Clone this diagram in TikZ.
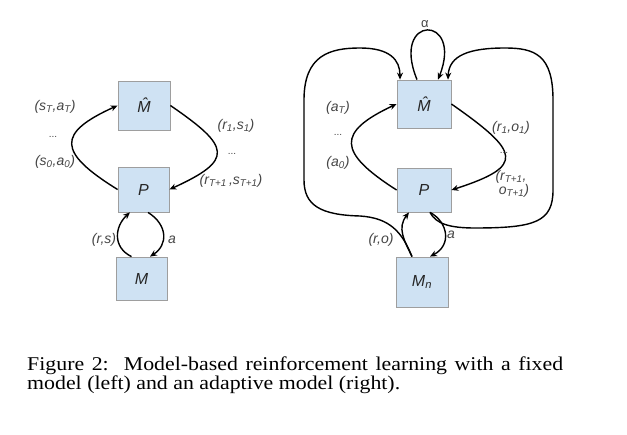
\documentclass[tikz,border=0pt]{standalone}
\usepackage{fontspec}
\setmainfont{Liberation Serif}[FakeStretch=1.12]
\newfontfamily\diagfont{Liberation Sans}
\usetikzlibrary{arrows.meta}
\definecolor{boxfill}{HTML}{CFE2F3}
\definecolor{boxedge}{HTML}{9E9E9E}
\definecolor{lbl}{HTML}{454545}
\newcommand{\lsb}[1]{\textsubscript{#1}}
\begin{document}
\begin{tikzpicture}[x=1pt,y=-1pt,
  box/.style={draw=boxedge, fill=boxfill, line width=0.8pt, inner sep=0pt, text=black!85,
    font=\diagfont\itshape\fontsize{16}{17}\selectfont},
  lab/.style={text=lbl, inner sep=0pt, font=\diagfont\itshape\fontsize{14}{15}\selectfont},
  dots/.style={text=lbl, inner sep=0pt, font=\diagfont\fontsize{10}{12}\selectfont},
  conn/.style={line width=1.4pt, -{Stealth[length=7pt,width=6pt]}}]
\useasboundingbox[fill=white] (0,0) rectangle (627,435);
% ---------- left panel ----------
\node[box, minimum width=52pt, minimum height=49pt] (Mh1) at (144,105.5) {\^{M}};
\node[box, minimum width=51pt, minimum height=45pt] (P1) at (143.5,189.5) {P};
\node[box, minimum width=51pt, minimum height=43pt] (M1) at (141.5,278.5) {M};
\draw[conn] (P1.west) .. controls (57,152) and (57,133) .. (Mh1.west);
\draw[conn] (Mh1.east) .. controls (231,147) and (234,160) .. (P1.east);
\draw[conn] ([xshift=-10pt]M1.north) .. controls (112,247) and (115,226) .. ([xshift=-13.5pt]P1.south);
\draw[conn] ([xshift=4.5pt]P1.south) .. controls (168,225) and (168,245) .. ([xshift=8.5pt]M1.north);
\node[lab] (l1) at (55,107) {(s\lsb{T},a\lsb{T})};
\node[dots] (l2) at (53,137) {...};
\node[lab] (l3) at (55,162) {(s\lsb{0},a\lsb{0})};
\node[lab] (l4) at (236,126) {(r\lsb{1},s\lsb{1})};
\node[dots] (l5) at (232,154) {...};
\node[lab] (l6) at (231,181) {(r\lsb{T+1}\,,s\lsb{T+1})};
\node[lab] (l7) at (104,240) {(r,s)};
\node[lab] (l8) at (172,240) {a};
% ---------- right panel ----------
\node[box, minimum width=54pt, minimum height=48pt] (Mh2) at (424,104) {\^{M}};
\node[box, minimum width=54pt, minimum height=44pt] (P2) at (424,190) {P};
\node[box, minimum width=52pt, minimum height=50pt] (Mn) at (422,282) {M\lsb{n}};
\draw[conn] (P2.west) .. controls (337,152) and (337,132) .. (Mh2.west);
\draw[conn] (Mh2.east) .. controls (520,152) and (526,166) .. (P2.east);
\draw[conn] ([xshift=-7pt]Mh2.north) .. controls (390,14) and (464,14) .. ([xshift=14pt]Mh2.north);
\draw[conn] ([xshift=-10pt]Mn.north) .. controls (404,240) and (397,228) .. ([xshift=-15pt]P2.south);
\draw[conn] ([xshift=6pt]P2.south) .. controls (448,222) and (452,245) .. ([xshift=8pt]Mn.north);
\draw[conn] ([xshift=-10pt]Mn.north) .. controls (402,232) and (390,218) .. (360,216)
  .. controls (320,215) and (304,205) .. (304,180)
  -- (304,100)
  .. controls (304,55) and (330,48) .. (360,48)
  .. controls (390,48) and (400,60) .. ([xshift=-24pt]Mh2.north);
\draw[conn] ([xshift=6pt]P2.south) .. controls (436,224) and (450,228) .. (475,228)
  .. controls (535,228) and (553,222) .. (553,190)
  -- (553,100)
  .. controls (553,55) and (535,48) .. (505,48)
  .. controls (470,48) and (449,55) .. ([xshift=24pt]Mh2.north);
\node[lab, font=\diagfont\fontsize{13}{14}\selectfont] (r0) at (425,24) {α};
\node[lab] (r1) at (338,108) {(a\lsb{T})};
\node[dots] (r2) at (338,135) {...};
\node[lab] (r3) at (338,163) {(a\lsb{0})};
\node[lab] (r4) at (511,128) {(r\lsb{1},o\lsb{1})};
\node[dots] (r5) at (504,153) {...};
\node[lab] (r6) at (511,177) {(r\lsb{T+1},};
\node[lab] (r7) at (514,191) {o\lsb{T+1})};
\node[lab] (r8) at (381,240) {(r,o)};
\node[lab] (r9) at (451,235) {a};
% ---------- caption ----------
\node[anchor=base west, align=left, inner sep=0pt, font=\fontsize{19.5}{19}\selectfont] (cap) at (27,390)
  {\makebox[536pt][s]{Figure 2:\ \ Model-based reinforcement learning with a fixed}\\model (left) and an adaptive model (right).};
\end{tikzpicture}
\end{document}
